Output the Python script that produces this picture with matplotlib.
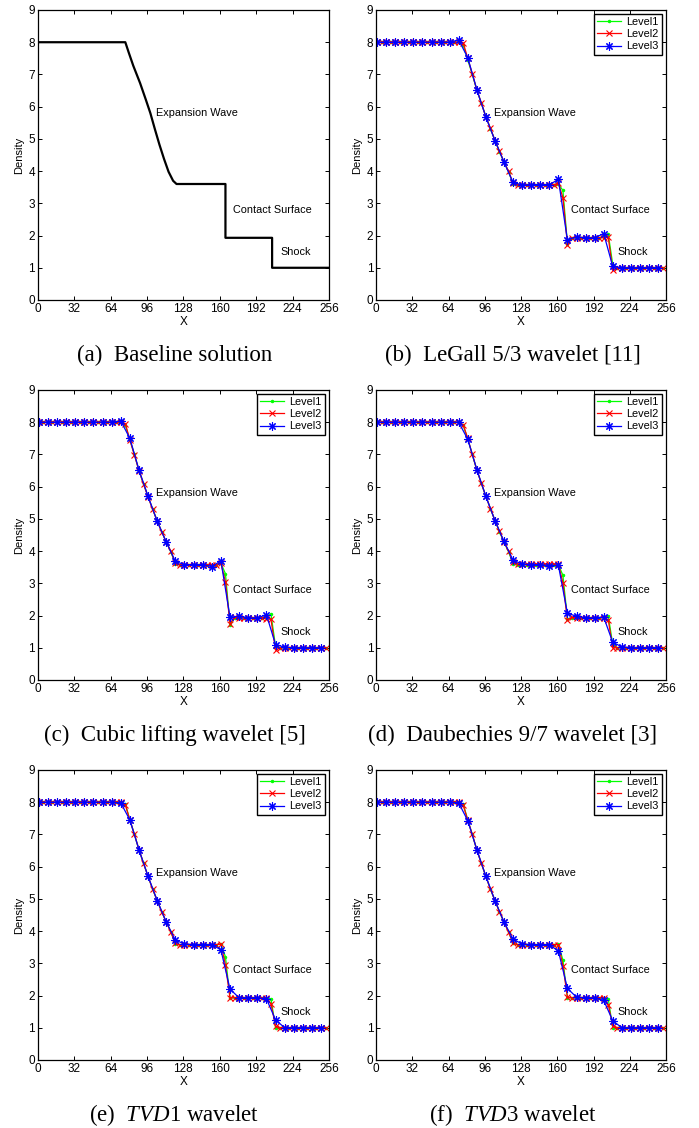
import numpy as np
import matplotlib
matplotlib.use("Agg")
import matplotlib.pyplot as plt

plt.rcParams['font.family'] = ['Liberation Sans', 'DejaVu Sans']
plt.rcParams['mathtext.fontset'] = 'custom'
plt.rcParams['mathtext.rm'] = 'Liberation Serif'
plt.rcParams['mathtext.it'] = 'Liberation Serif:italic'

# grids: Level1/Level2 every 4 cells, Level3 every 8 cells
x_fine = np.arange(1, 254, 4)
x_coarse = np.arange(1, 250, 8)

# baseline (exact) solution
base_x = [0, 77, 80, 84, 90, 95, 99, 103, 107, 111, 115, 119, 122, 165, 165, 206, 206, 256]
base_y = [8.0, 8.0, 7.68, 7.27, 6.73, 6.22, 5.8, 5.3, 4.82, 4.38, 3.98, 3.7, 3.6,
          3.6, 1.93, 1.93, 1.0, 1.0]

# (b) LeGall 5/3
b_l1 = [8.0, 8.0, 8.0, 8.0, 8.0, 8.0, 8.0, 8.0, 8.0, 8.0, 8.0, 8.0, 8.0, 8.0, 8.0, 8.0,
        8.0, 8.0, 8.0, 7.9, 7.45, 7.0, 6.52, 6.1, 5.7, 5.32, 4.95, 4.6, 4.28, 3.98, 3.6, 3.58,
        3.58, 3.58, 3.58, 3.58, 3.58, 3.58, 3.58, 3.58, 3.6, 3.4, 1.75, 1.93, 1.93, 1.93, 1.93, 1.93,
        1.93, 1.93, 1.97, 2.05, 1.1, 1.0, 1.0, 1.0, 1.0, 1.0, 1.0, 1.0, 1.0, 1.0, 1.0, 1.0]
b_l2 = [8.0, 8.0, 8.0, 8.0, 8.0, 8.0, 8.0, 8.0, 8.0, 8.0, 8.0, 8.0, 8.0, 8.0, 8.0, 8.0,
        8.0, 8.0, 8.0, 7.98, 7.5, 7.02, 6.52, 6.11, 5.68, 5.33, 4.95, 4.62, 4.28, 4.0, 3.62, 3.58,
        3.58, 3.58, 3.58, 3.58, 3.58, 3.58, 3.58, 3.58, 3.62, 3.18, 1.72, 1.93, 1.93, 1.93, 1.93, 1.93,
        1.93, 1.93, 1.93, 1.95, 0.92, 1.0, 1.0, 1.0, 1.0, 1.0, 1.0, 1.0, 1.0, 1.0, 1.0, 1.0]
b_l3 = [8.0, 8.0, 8.0, 8.0, 8.0, 8.0, 8.0, 8.0, 8.0, 8.07, 7.52, 6.53, 5.68, 4.95, 4.28, 3.65,
        3.57, 3.58, 3.58, 3.58, 3.74, 1.86, 1.96, 1.93, 1.93, 2.06, 1.04, 1.0, 1.0, 1.0, 1.0, 1.0]

# (c) Cubic lifting
c_l1 = [8.0, 8.0, 8.0, 8.0, 8.0, 8.0, 8.0, 8.0, 8.0, 8.0, 8.0, 8.0, 8.0, 8.0, 8.0, 8.0,
        8.0, 8.0, 8.0, 7.9, 7.45, 7.0, 6.5, 6.08, 5.7, 5.3, 4.95, 4.6, 4.28, 3.98, 3.6, 3.58,
        3.58, 3.58, 3.58, 3.58, 3.58, 3.58, 3.58, 3.58, 3.62, 3.3, 1.72, 1.93, 1.93, 1.93, 1.93, 1.93,
        1.93, 1.93, 1.97, 2.05, 1.05, 1.0, 1.0, 1.0, 1.0, 1.0, 1.0, 1.0, 1.0, 1.0, 1.0, 1.0]
c_l2 = [8.0, 8.0, 8.0, 8.0, 8.0, 8.0, 8.0, 8.0, 8.0, 8.0, 8.0, 8.0, 8.0, 8.0, 8.0, 8.0,
        8.0, 8.0, 8.0, 7.96, 7.45, 6.98, 6.5, 6.08, 5.68, 5.3, 4.93, 4.6, 4.28, 4.0, 3.62, 3.57,
        3.57, 3.57, 3.58, 3.58, 3.58, 3.58, 3.57, 3.58, 3.62, 3.05, 1.75, 1.95, 1.93, 1.93, 1.93, 1.93,
        1.93, 1.93, 1.9, 1.88, 0.93, 1.0, 1.0, 1.0, 1.0, 1.0, 1.0, 1.0, 1.0, 1.0, 1.0, 1.0]
c_l3 = [8.0, 8.0, 8.0, 8.0, 8.0, 8.0, 8.0, 8.0, 8.0, 8.04, 7.5, 6.52, 5.7, 4.93, 4.28, 3.68,
        3.58, 3.58, 3.58, 3.52, 3.7, 1.95, 1.98, 1.93, 1.92, 2.03, 1.1, 1.02, 1.0, 1.0, 1.0, 1.0]

# (d) Daubechies 9/7
d_l1 = [8.0, 8.0, 8.0, 8.0, 8.0, 8.0, 8.0, 8.0, 8.0, 8.0, 8.0, 8.0, 8.0, 8.0, 8.0, 8.0,
        8.0, 8.0, 8.0, 7.9, 7.48, 7.0, 6.52, 6.1, 5.7, 5.32, 4.95, 4.6, 4.28, 3.98, 3.6, 3.58,
        3.58, 3.58, 3.58, 3.58, 3.58, 3.58, 3.58, 3.58, 3.58, 3.25, 1.9, 1.93, 1.93, 1.93, 1.93, 1.93,
        1.93, 1.93, 1.95, 2.0, 1.1, 1.0, 1.0, 1.0, 1.0, 1.0, 1.0, 1.0, 1.0, 1.0, 1.0, 1.0]
d_l2 = [8.0, 8.0, 8.0, 8.0, 8.0, 8.0, 8.0, 8.0, 8.0, 8.0, 8.0, 8.0, 8.0, 8.0, 8.0, 8.0,
        8.0, 8.0, 8.0, 7.92, 7.5, 7.0, 6.52, 6.1, 5.7, 5.32, 4.95, 4.62, 4.28, 4.0, 3.65, 3.6,
        3.6, 3.6, 3.6, 3.6, 3.6, 3.6, 3.6, 3.6, 3.6, 3.02, 1.85, 1.95, 1.93, 1.93, 1.93, 1.93,
        1.93, 1.93, 1.93, 1.87, 1.0, 1.0, 1.0, 1.0, 1.0, 1.0, 1.0, 1.0, 1.0, 1.0, 1.0, 1.0]
d_l3 = [8.0, 8.0, 8.0, 8.0, 8.0, 8.0, 8.0, 8.0, 8.0, 8.0, 7.47, 6.53, 5.7, 4.95, 4.3, 3.72,
        3.6, 3.58, 3.58, 3.55, 3.56, 2.07, 1.98, 1.93, 1.93, 1.95, 1.17, 1.03, 1.0, 1.0, 1.0, 1.0]

# (e) TVD1
e_l1 = [8.0, 8.0, 8.0, 8.0, 8.0, 8.0, 8.0, 8.0, 8.0, 8.0, 8.0, 8.0, 8.0, 8.0, 8.0, 8.0,
        8.0, 8.0, 8.0, 7.95, 7.45, 7.0, 6.52, 6.1, 5.7, 5.3, 4.95, 4.6, 4.28, 3.98, 3.6, 3.58,
        3.58, 3.58, 3.58, 3.58, 3.58, 3.58, 3.58, 3.58, 3.6, 3.2, 1.93, 1.93, 1.93, 1.93, 1.93, 1.93,
        1.93, 1.93, 1.93, 1.9, 1.0, 1.0, 1.0, 1.0, 1.0, 1.0, 1.0, 1.0, 1.0, 1.0, 1.0, 1.0]
e_l2 = [8.0, 8.0, 8.0, 8.0, 8.0, 8.0, 8.0, 8.0, 8.0, 8.0, 8.0, 8.0, 8.0, 8.0, 8.0, 8.0,
        8.0, 8.0, 8.0, 7.92, 7.45, 7.0, 6.53, 6.1, 5.7, 5.3, 4.95, 4.6, 4.28, 3.97, 3.62, 3.57,
        3.57, 3.58, 3.58, 3.58, 3.58, 3.58, 3.58, 3.58, 3.6, 2.95, 1.93, 1.93, 1.93, 1.93, 1.93, 1.93,
        1.93, 1.93, 1.93, 1.75, 1.05, 1.0, 1.0, 1.0, 1.0, 1.0, 1.0, 1.0, 1.0, 1.0, 1.0, 1.0]
e_l3 = [8.0, 8.0, 8.0, 8.0, 8.0, 8.0, 8.0, 8.0, 8.0, 7.98, 7.45, 6.53, 5.7, 4.95, 4.28, 3.72,
        3.6, 3.58, 3.58, 3.58, 3.42, 2.2, 1.93, 1.93, 1.93, 1.9, 1.25, 1.0, 1.0, 1.0, 1.0, 1.0]

# (f) TVD3
f_l1 = [8.0, 8.0, 8.0, 8.0, 8.0, 8.0, 8.0, 8.0, 8.0, 8.0, 8.0, 8.0, 8.0, 8.0, 8.0, 8.0,
        8.0, 8.0, 8.0, 7.95, 7.45, 7.0, 6.52, 6.1, 5.7, 5.3, 4.95, 4.6, 4.28, 3.98, 3.62, 3.58,
        3.58, 3.58, 3.58, 3.58, 3.58, 3.58, 3.58, 3.58, 3.6, 3.1, 1.93, 1.93, 1.93, 1.93, 1.93, 1.93,
        1.93, 1.93, 1.93, 1.9, 1.0, 1.0, 1.0, 1.0, 1.0, 1.0, 1.0, 1.0, 1.0, 1.0, 1.0, 1.0]
f_l2 = [8.0, 8.0, 8.0, 8.0, 8.0, 8.0, 8.0, 8.0, 8.0, 8.0, 8.0, 8.0, 8.0, 8.0, 8.0, 8.0,
        8.0, 8.0, 8.0, 7.9, 7.45, 7.0, 6.52, 6.1, 5.7, 5.3, 4.95, 4.6, 4.28, 3.97, 3.62, 3.58,
        3.58, 3.58, 3.58, 3.58, 3.58, 3.58, 3.58, 3.58, 3.58, 2.93, 1.95, 1.93, 1.93, 1.93, 1.93, 1.93,
        1.93, 1.93, 1.93, 1.72, 1.05, 1.0, 1.0, 1.0, 1.0, 1.0, 1.0, 1.0, 1.0, 1.0, 1.0, 1.0]
f_l3 = [8.0, 8.0, 8.0, 8.0, 8.0, 8.0, 8.0, 8.0, 8.0, 7.98, 7.43, 6.53, 5.7, 4.95, 4.28, 3.75,
        3.6, 3.58, 3.58, 3.58, 3.38, 2.22, 1.95, 1.93, 1.93, 1.85, 1.22, 1.0, 1.0, 1.0, 1.0, 1.0]

captions = ["(a)  Baseline solution", "(b)  LeGall 5/3 wavelet [11]",
            "(c)  Cubic lifting wavelet [5]", "(d)  Daubechies 9/7 wavelet [3]",
            r"(e)  $\mathit{TVD}$1 wavelet", r"(f)  $\mathit{TVD}$3 wavelet"]
panels = [None, (b_l1, b_l2, b_l3), (c_l1, c_l2, c_l3), (d_l1, d_l2, d_l3),
          (e_l1, e_l2, e_l3), (f_l1, f_l2, f_l3)]

W, H = 699, 1128
fig = plt.figure(figsize=(W / 100, H / 100), dpi=100)

col_left = [37.7, 376]
col_width = [291.3, 290]
col_center = [174.5, 513]
row_top = [10, 390, 770]
row_height = 290
cap_y = [355, 735, 1115]

asterisk = (8, 2, 0)

for i in range(6):
    r, c = divmod(i, 2)
    ax = fig.add_axes([col_left[c] / W, 1 - (row_top[r] + row_height) / H,
                       col_width[c] / W, row_height / H])
    if panels[i] is None:
        ax.plot(base_x, base_y, color='black', lw=1.6)
    else:
        l1, l2, l3 = panels[i]
        ax.plot(x_fine, l1, color=(0, 1, 0), lw=0.9, marker='.', ms=3, label='Level1')
        ax.plot(x_fine, l2, color=(1, 0, 0), lw=0.9, marker='x', ms=4, mew=0.8, label='Level2')
        ax.plot(x_coarse, l3, color=(0, 0, 1), lw=0.9, marker=asterisk, ms=6, mew=0.8,
                label='Level3')
        leg = ax.legend(loc='upper right', fontsize=7.8, fancybox=False, framealpha=1,
                        edgecolor='black', borderaxespad=0.35, handlelength=2.2,
                        labelspacing=0.2, borderpad=0.3, handletextpad=0.5)
        leg.get_frame().set_linewidth(1.0)

    ax.text(104, 5.8, "Expansion Wave", fontsize=7.8, va='center', ha='left')
    ax.text(172, 2.8, "Contact Surface", fontsize=7.8, va='center', ha='left')
    ax.text(213, 1.5, "Shock", fontsize=7.8, va='center', ha='left')

    ax.set_xlim(0, 256)
    ax.set_ylim(0, 9)
    ax.set_xticks(np.arange(0, 257, 32))
    ax.set_yticks(np.arange(0, 10, 1))
    ax.tick_params(direction='in', top=True, right=True, labelsize=8.5,
                   length=3, width=0.7, pad=2)
    for s in ax.spines.values():
        s.set_linewidth(0.9)
    ax.set_xlabel("X", fontsize=8.5, labelpad=1)
    ax.set_ylabel("Density", fontsize=8, labelpad=3)

    fig.text(col_center[c] / W, 1 - cap_y[r] / H, captions[i], ha='center', va='center',
             fontsize=16.5, family='Liberation Serif')

fig.savefig("out.png", dpi=100)
